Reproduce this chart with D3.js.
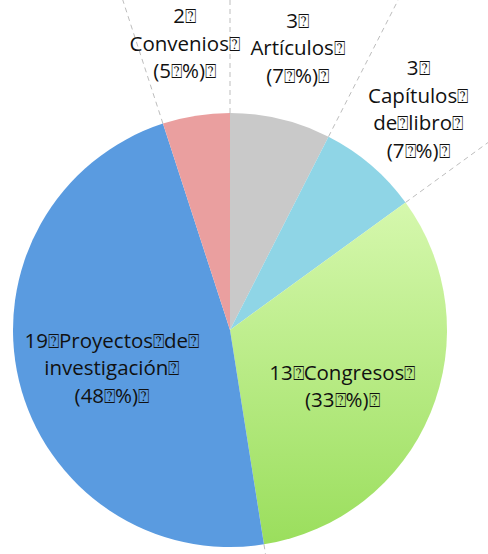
<!DOCTYPE html>
<html><head><meta charset="utf-8">
<script src="https://cdn.jsdelivr.net/npm/d3@7"></script>
<style>body{margin:0;background:#fff}svg{display:block}</style>
</head><body>
<svg id="c" width="488" height="554"></svg>
<script>
const categories = ["Artículos","Capítulos de libro","Congresos","Proyectos de investigación","Convenios"];
const values = [3,3,13,19,2];
const percents = [7,7,33,48,5];
const labelLines = [
  ["3\u2370","Artículos\u2370","(7\u2370%)\u2370"],
  ["3\u2370","Capítulos\u2370","de\u2370libro\u2370","(7\u2370%)\u2370"],
  ["13\u2370Congresos\u2370","(33\u2370%)\u2370"],
  ["19\u2370Proyectos\u2370de\u2370","investigación\u2370","(48\u2370%)\u2370"],
  ["2\u2370","Convenios\u2370","(5\u2370%)\u2370"]
];
const labelInside = [false,false,true,true,false];
const colors = ["#C9C9C9","#8FD5E6","url(#gGreen)","#5A9BE0","#EA9F9F"];

const W=488,H=554,cx=230,cy=330,R=217;
const svg=d3.select("#c");
const defs=svg.append("defs");
const lg=defs.append("linearGradient").attr("id","gGreen").attr("gradientUnits","userSpaceOnUse")
  .attr("x1",0).attr("y1",-R*0.6).attr("x2",0).attr("y2",R);
lg.append("stop").attr("offset","0%").attr("stop-color","#D6F8AE");
lg.append("stop").attr("offset","100%").attr("stop-color","#9ADE5C");

const pie=d3.pie().sort(null).value(d=>d)(values);
const arc=d3.arc().innerRadius(0).outerRadius(R);
const g=svg.append("g").attr("transform",`translate(${cx},${cy})`);

// dashed radial lines at slice boundaries, outside the pie
const boundaries=pie.map(p=>p.startAngle);
g.selectAll("line.b").data(boundaries).join("line")
  .attr("x1",a=>Math.sin(a)*R).attr("y1",a=>-Math.cos(a)*R)
  .attr("x2",a=>Math.sin(a)*700).attr("y2",a=>-Math.cos(a)*700)
  .attr("stroke","#BDBDBD").attr("stroke-width",1).attr("stroke-dasharray","5,4");

g.selectAll("path").data(pie).join("path")
  .attr("d",arc).attr("fill",(d,i)=>colors[i]);

const fs=20.5, lh=27.5;
pie.forEach((p,i)=>{
  const a=(p.startAngle+p.endAngle)/2;
  const rr=labelInside[i]?R*0.56:R*1.335;
  const x=Math.sin(a)*rr, y=-Math.cos(a)*rr + (labelInside[i]?10:0);
  const lines=labelLines[i];
  const t=g.append("text").attr("text-anchor","middle")
    .attr("font-family","'Open Sans', sans-serif").attr("font-size",fs).attr("fill","#111");
  lines.forEach((ln,k)=>{
    const yy=y+(k-(lines.length-1)/2)*lh+7;
    const parts=ln.split("\u2370");
    const tl=t.append("tspan").attr("x",x).attr("y",yy);
    parts.forEach((s,j)=>{
      if(s.length) tl.append("tspan").text(s);
      if(j<parts.length-1) tl.append("tspan").attr("font-size",19).text("\u2370")
        .attr("font-family","'DejaVu Sans', sans-serif");
    });
  });
});
</script>
</body></html>
